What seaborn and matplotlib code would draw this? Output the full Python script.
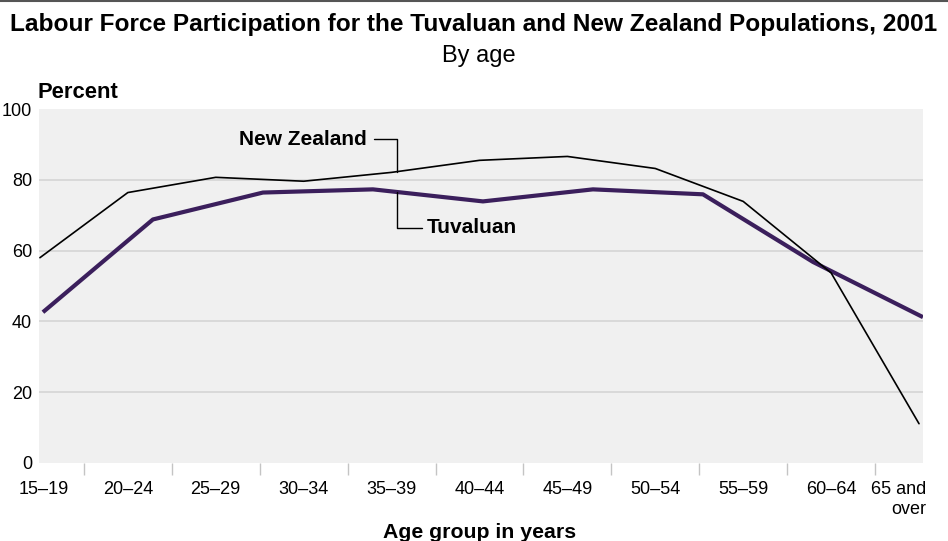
import numpy as np
import pandas as pd
import matplotlib
matplotlib.use("Agg")
import matplotlib.pyplot as plt
from matplotlib import font_manager
from matplotlib.lines import Line2D
from matplotlib.transforms import ScaledTranslation
import seaborn as sns

# ── Data ──────────────────────────────────────────────────────────────────────
AGE_GROUPS = ["15–19", "20–24", "25–29", "30–34", "35–39", "40–44",
              "45–49", "50–54", "55–59", "60–64", "65 and\nover"]
NZ_RATE = [58.0, 76.4, 80.7, 79.6, 82.1, 85.5, 86.6, 83.2, 73.9, 53.7, 11.1]
# Tuvaluan series is drawn as 9 evenly spaced points across the plot
TUV_RATE = [42.6, 68.8, 76.4, 77.3, 73.9, 77.3, 75.9, 56.8, 41.2]

Y_TICKS = [0, 20, 40, 60, 80, 100]
GRID_Y = [20, 40, 60, 80]

# ── Style ─────────────────────────────────────────────────────────────────────
BG = "#f0f0f0"
GRID = "#d3d3d3"
TICK = "#c4c4c4"
NZ_COLOR = "black"
TUV_COLOR = "#3b1f5c"

sns.set_theme(style="white", rc={"text.color": "black",
                                 "axes.labelcolor": "black",
                                 "xtick.labelcolor": "black",
                                 "ytick.labelcolor": "black"})
_have = {f.name for f in font_manager.fontManager.ttflist}
NARROW = "Liberation Sans Narrow" if "Liberation Sans Narrow" in _have else "Liberation Sans"
TICK_SIZE = 14 if NARROW == "Liberation Sans Narrow" else 13
plt.rcParams["font.family"] = ["Liberation Sans", "DejaVu Sans"]

nz = pd.DataFrame({"pos": np.arange(len(AGE_GROUPS)), "rate": NZ_RATE})
tuv = pd.DataFrame({"pos": np.arange(len(TUV_RATE)), "rate": TUV_RATE})

fig = plt.figure(figsize=(9.48, 5.41), dpi=100)
ax = fig.add_axes([0.0411, 0.1442, 0.9325, 0.6543])
ax_t = ax.twiny()

# keep NZ (main axes) drawn over the Tuvaluan line
ax.set_zorder(ax_t.get_zorder() + 1)
ax.patch.set_visible(False)
ax_t.patch.set_visible(True)
ax_t.set_facecolor(BG)

for y in GRID_Y:
    ax_t.axhline(y, color=GRID, linewidth=1.1, zorder=0)

sns.lineplot(data=tuv, x="pos", y="rate", ax=ax_t, color=TUV_COLOR,
             linewidth=3.0, sort=False, solid_capstyle="butt")
sns.lineplot(data=nz, x="pos", y="rate", ax=ax, color=NZ_COLOR,
             linewidth=1.2, sort=False)

ax.set_ylim(0, 100)
ax.set_xlim(-0.011, 10.045)
ax_t.set_xlim(-0.036, 8.0)

# twin axis: no decorations
ax_t.set_xticks([])
ax_t.set_xlabel("")
for s in ax_t.spines.values():
    s.set_visible(False)

for s in ax.spines.values():
    s.set_visible(False)

# y ticks
ax.set_yticks(Y_TICKS)
ax.set_yticklabels([str(v) for v in Y_TICKS], fontfamily=NARROW, fontsize=TICK_SIZE)
ax.tick_params(axis="y", length=0, pad=5, labelcolor="black")
ax.set_ylabel("")

# x: tick marks between categories, labels on categories
ax.set_xticks(np.arange(len(AGE_GROUPS) - 1) + 0.5)
ax.set_xticklabels([])
ax.set_xticks(np.arange(len(AGE_GROUPS)), minor=True)
ax.set_xticklabels(AGE_GROUPS, minor=True, fontfamily=NARROW, fontsize=TICK_SIZE)
ax.tick_params(axis="x", which="major", length=8.6, width=1, color=TICK,
               direction="out", bottom=True)
ax.tick_params(axis="x", which="minor", length=0, pad=13, bottom=True,
               labelcolor="black")
labels = ax.xaxis.get_minorticklabels()
first, last = labels[0], labels[-1]
first.set_transform(first.get_transform() + ScaledTranslation(4 / 100, 0, fig.dpi_scale_trans))
last.set_ha("right")
last.set_multialignment("right")
last.set_transform(last.get_transform() + ScaledTranslation(7 / 100, 0, fig.dpi_scale_trans))
ax.set_xlabel("")

# series labels with leader lines
ax.annotate("New Zealand", xy=(4.06, 82.2), xytext=(3.72, 91.5),
            ha="right", va="center", fontsize=15, fontweight="bold", color="black",
            arrowprops=dict(arrowstyle="-", color="black", lw=1.0,
                            connectionstyle="angle,angleA=0,angleB=90,rad=0",
                            shrinkA=3, shrinkB=0))
ax.annotate("Tuvaluan", xy=(4.06, 76.5), xytext=(4.40, 66.5),
            ha="left", va="center", fontsize=15, fontweight="bold", color="black",
            arrowprops=dict(arrowstyle="-", color="black", lw=1.0,
                            connectionstyle="angle,angleA=0,angleB=90,rad=0",
                            shrinkA=1, shrinkB=0))

# titles
fig.text(0.5, 1 - 24 / 541,
         "Labour Force Participation for the Tuvaluan and New Zealand Populations, 2001",
         ha="center", va="center", fontsize=17.6, fontweight="bold", color="black")
fig.text(0.505, 1 - 56 / 541, "By age", ha="center", va="center", fontsize=17,
         color="black")
fig.text(0.040, 1 - 93 / 541, "Percent", ha="left", va="center",
         fontsize=15.8, fontweight="bold", color="black")
fig.text(0.506, 1 - 533 / 541, "Age group in years", ha="center", va="center",
         fontsize=15.3, fontweight="bold", color="black")

# frame line along the top edge
fig.add_artist(Line2D([0, 1], [0.998, 0.998], transform=fig.transFigure,
                      color="#555555", linewidth=1.5))

fig.savefig("out.png", dpi=100)
plt.close(fig)
